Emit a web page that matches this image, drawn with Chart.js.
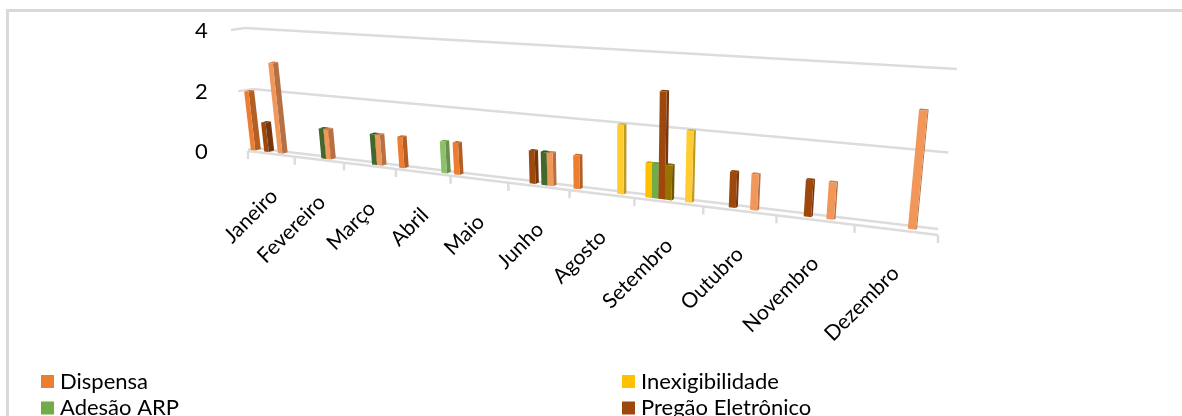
<!DOCTYPE html>
<html>
<head>
<meta charset="utf-8">
<style>
html, body { margin: 0; padding: 0; background: #fff; overflow: hidden; }
#frame { position: absolute; left: 6px; top: 9px; width: 1300px; height: 440px; border: 3px solid #d9d9d9; }
#chart { position: absolute; left: 0; top: 0; }
</style>
</head>
<body>
<div id="frame"></div>
<canvas id="chart" width="1182" height="416"></canvas>
<script src="https://cdn.jsdelivr.net/npm/chart.js@4/dist/chart.umd.min.js"></script>
<script>
const months = ['Janeiro', 'Fevereiro', 'Março', 'Abril', 'Maio', 'Junho', 'Agosto', 'Setembro', 'Outubro', 'Novembro', 'Dezembro'];
const yTicks = [0, 2, 4];

// the legend is cut off by the picture, only the first four names can be read
const seriesNames = ['Dispensa', 'Inexigibilidade', 'Adesão ARP', 'Pregão Eletrônico'];
const seriesColors = ['#ed7d31', '#ffc000', '#70ad47', '#9e480e', '#997300', '#43682b', '#f1975a', '#ffcd33', '#8cc168'];

const dispensa =        [2, null, null, 1, 1, null, 1, null, null, null, null];
const inexigibilidade = [null, null, null, null, null, null, null, 1, null, null, null];
const adesaoArp =       [null, null, null, null, null, null, null, 1, null, null, null];
const pregao =          [1, null, null, null, null, 1, null, 3, 1, 1, null];
const serie5 =          [null, null, null, null, null, null, null, 1, null, null, null];
const serie6 =          [null, 1, 1, null, null, 1, null, null, null, null, null];
const serie7 =          [3, 1, 1, null, null, 1, null, null, 1, 1, 3];
const serie8 =          [null, null, null, null, null, null, 2, 2, null, null, null];
const serie9 =          [null, null, null, 1, null, null, null, null, null, null, null];
const allSeries = [dispensa, inexigibilidade, adesaoArp, pregao, serie5, serie6, serie7, serie8, serie9];

// corners of the tilted wall on the page: bottom left, bottom right, top right, top left
const corners = [[248, 150], [938, 233], [955, 70], [234, 30]];

function buildHomography(p) {
    const sx = p[0][0] - p[1][0] + p[2][0] - p[3][0];
    const sy = p[0][1] - p[1][1] + p[2][1] - p[3][1];
    const dx1 = p[1][0] - p[2][0], dx2 = p[3][0] - p[2][0];
    const dy1 = p[1][1] - p[2][1], dy2 = p[3][1] - p[2][1];
    const det = dx1 * dy2 - dx2 * dy1;
    const g = (sx * dy2 - dx2 * sy) / det;
    const h = (dx1 * sy - sx * dy1) / det;
    const a = p[1][0] - p[0][0] + g * p[1][0];
    const b = p[3][0] - p[0][0] + h * p[3][0];
    const d = p[1][1] - p[0][1] + g * p[1][1];
    const e = p[3][1] - p[0][1] + h * p[3][1];
    return (u, v) => {
        const w = g * u + h * v + 1;
        return [(a * u + b * v + p[0][0]) / w, (d * u + e * v + p[0][1]) / w];
    };
}
const wall = buildHomography(corners);

function shade(hex, f) {
    const n = parseInt(hex.slice(1), 16);
    const c = [n >> 16, (n >> 8) & 255, n & 255].map(x => Math.round(x * f));
    return `rgb(${c[0]},${c[1]},${c[2]})`;
}

function poly(ctx, pts, fill) {
    ctx.beginPath();
    pts.forEach((p, i) => i ? ctx.lineTo(p[0], p[1]) : ctx.moveTo(p[0], p[1]));
    ctx.closePath();
    ctx.fillStyle = fill;
    ctx.fill();
}

function line(ctx, a, b) {
    ctx.beginPath();
    ctx.moveTo(a[0], a[1]);
    ctx.lineTo(b[0], b[1]);
    ctx.stroke();
}

const tiltPlugin = {
    id: 'tilt',
    beforeDatasetsDraw(chart) {
        const ctx = chart.ctx;
        const area = chart.chartArea;
        const toScreen = (x, y) => wall(
            (x - area.left) / (area.right - area.left),
            (area.bottom - y) / (area.bottom - area.top)
        );

        // walls
        ctx.save();
        ctx.strokeStyle = '#dcdcdc';
        ctx.lineWidth = 2.5;
        yTicks.filter(t => t > 0).forEach(t => {
            const y = chart.scales.y.getPixelForValue(t);
            const start = toScreen(area.left, y);
            const end = toScreen(area.right, y);
            const left = [start[0] - 3, start[1]];
            const back = [left[0] + 14, left[1] - 2];
            line(ctx, left, back);
            line(ctx, back, [end[0] + 2, end[1] - 1]);
        });

        // floor, front and back edge
        const floor0 = toScreen(area.left, area.bottom);
        const floor1 = toScreen(area.right, area.bottom);
        line(ctx, [floor0[0], floor0[1] + 1], [floor1[0], floor1[1] + 2]);
        line(ctx, [floor0[0], floor0[1]], [floor0[0] + 6, floor0[1] - 2]);
        line(ctx, [floor0[0] + 6, floor0[1] - 2], [floor1[0], floor1[1] - 4]);
        const slot = (area.right - area.left) / months.length;
        for (let i = 0; i <= months.length; i++) {
            const p = toScreen(area.left + i * slot, area.bottom);
            const y0 = p[1] + 1 + i / months.length;
            line(ctx, [p[0], y0], [p[0], y0 + 8]);
        }
        ctx.restore();

        // bars
        chart.data.datasets.forEach((ds, di) => {
            chart.getDatasetMeta(di).data.forEach((bar, i) => {
                if (ds.data[i] == null) return;
                const l = bar.x - bar.width / 2;
                const r = bar.x + bar.width / 2;
                const u = (bar.x - area.left) / (area.right - area.left);
                const depth = 5.5 - 4.5 * u;
                const a = toScreen(l, bar.base);
                const b = toScreen(r, bar.base);
                const c = toScreen(r, bar.y);
                const d = toScreen(l, bar.y);
                const off = (p) => [p[0] + depth, p[1] - 1.5];
                poly(ctx, [b, c, off(c), off(b)], shade(ds.backgroundColor, 0.75));
                poly(ctx, [d, c, off(c), off(d)], shade(ds.backgroundColor, 0.85));
                poly(ctx, [a, b, c, d], ds.backgroundColor);
            });
        });

        // month labels follow the tilted floor
        ctx.save();
        ctx.fillStyle = '#000';
        ctx.font = '21px Lato';
        ctx.textAlign = 'right';
        ctx.textBaseline = 'middle';
        chart.data.labels.forEach((label, i) => {
            const p = toScreen(area.left + (i + 0.5) * slot, area.bottom);
            const t = i / (months.length - 1);
            ctx.save();
            ctx.translate(p[0] + 3 - 3 * t, p[1] + 40 + 2 * t);
            ctx.rotate(-45 * Math.PI / 180);
            ctx.fillText(label, 0, 0);
            ctx.restore();
        });
        ctx.restore();

        // two column legend, the rows after the second fall outside the picture
        ctx.save();
        ctx.font = '22px Lato';
        ctx.textBaseline = 'middle';
        seriesNames.forEach((name, i) => {
            const x = i % 2 ? 622 : 41;
            const y = 381.5 + 26.5 * Math.floor(i / 2);
            ctx.fillStyle = seriesColors[i];
            ctx.fillRect(x, y - 6.5, 13, 13);
            ctx.fillStyle = '#000';
            ctx.fillText(name, x + 19, y);
        });
        ctx.restore();

        return false;
    }
};

new Chart(document.getElementById('chart'), {
    type: 'bar',
    data: {
        labels: months,
        datasets: allSeries.map((values, i) => ({
            label: seriesNames[i],
            data: values,
            backgroundColor: seriesColors[i]
        }))
    },
    options: {
        responsive: false,
        animation: false,
        layout: { padding: { left: 187, top: 31, right: 225, bottom: 264 } },
        datasets: { bar: { categoryPercentage: 0.87, barPercentage: 1 } },
        plugins: { legend: { display: false }, tooltip: { enabled: false } },
        scales: {
            x: { display: false },
            y: {
                min: 0,
                max: 4,
                afterBuildTicks: scale => { scale.ticks = yTicks.map(v => ({ value: v })); },
                // long invisible tick marks keep the numbers away from the wall
                grid: { color: 'transparent', drawOnChartArea: false, tickLength: 19 },
                border: { display: false },
                ticks: { color: '#000', padding: 8, font: { family: 'Lato', size: 22 } }
            }
        }
    },
    plugins: [tiltPlugin]
});
</script>
</body>
</html>
